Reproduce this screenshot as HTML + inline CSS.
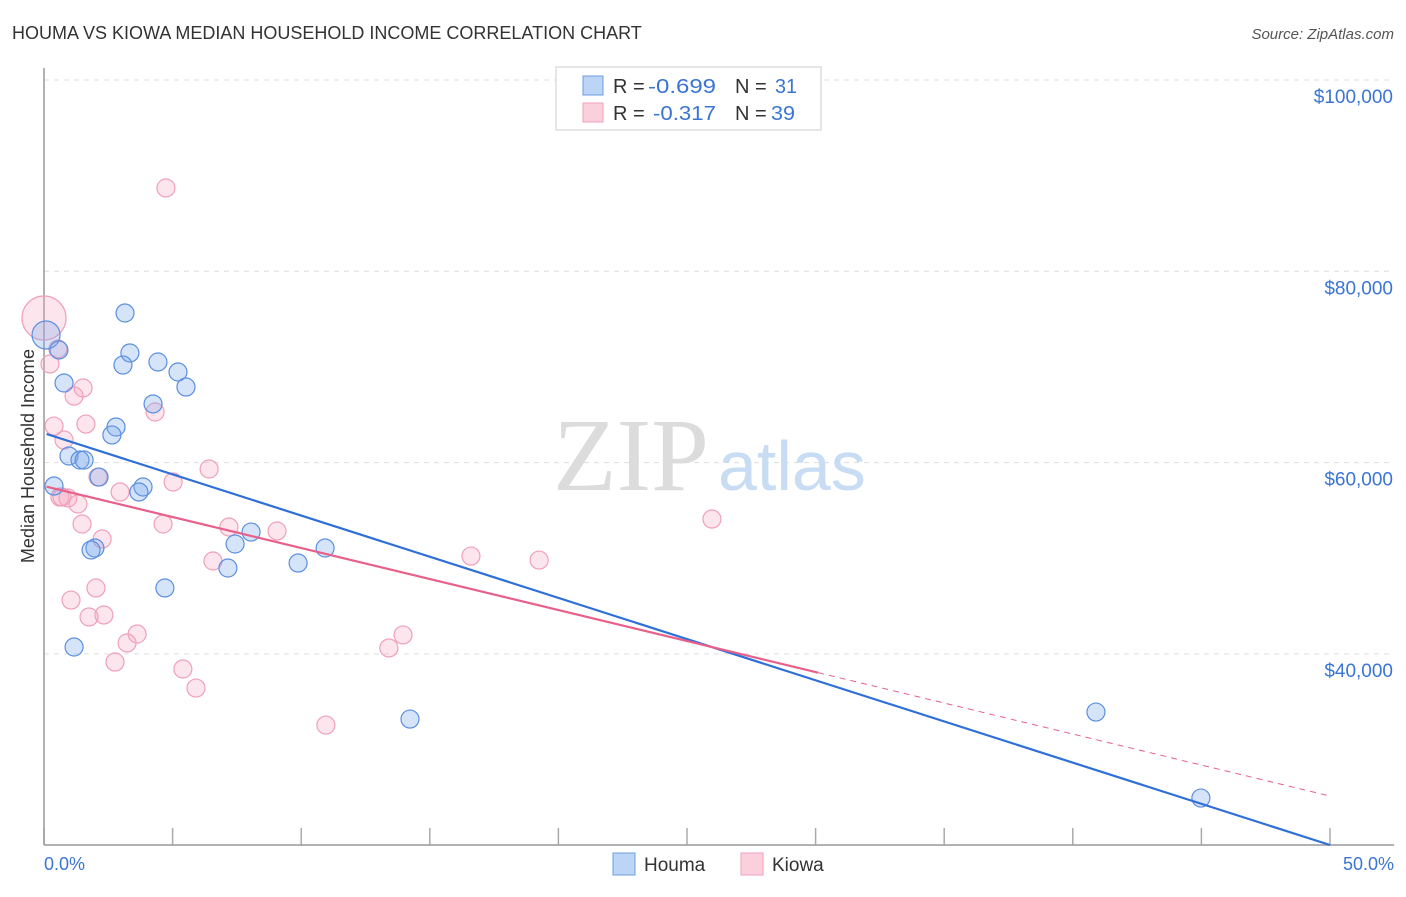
<!DOCTYPE html>
<html><head><meta charset="utf-8"><style>
body{margin:0;background:#fff;font-family:"Liberation Sans",sans-serif;}
</style></head><body>
<svg width="1406" height="892" viewBox="0 0 1406 892" font-family="Liberation Sans, sans-serif">
<text x="12" y="39" font-size="18" fill="#333">HOUMA VS KIOWA MEDIAN HOUSEHOLD INCOME CORRELATION CHART</text>
<text x="1394" y="39" font-size="15" fill="#555" font-style="italic" text-anchor="end">Source: ZipAtlas.com</text>
<g id="grid"></g>
<text x="553" y="490" font-size="104" fill="#dcdcdc" style="font-family:'Liberation Serif',serif">ZIP</text>
<text x="718" y="490" font-size="70" fill="#c8dcf3">atlas</text>
<line x1="44" y1="68" x2="44" y2="845" stroke="#999" stroke-width="1.5"/>
<line x1="44" y1="845" x2="1394" y2="845" stroke="#999" stroke-width="1.5"/>
<text x="34" y="456" font-size="18" fill="#333" text-anchor="middle" transform="rotate(-90 34 456)">Median Household Income</text>
<text x="44" y="870" font-size="18" fill="#3a75d6">0.0%</text>
<text x="1394" y="870" font-size="18" fill="#3a75d6" text-anchor="end">50.0%</text>
<g id="points"></g>
<g id="trends"></g>
<rect x="556" y="67" width="265" height="63" fill="#fff" stroke="#ccc"/>
<rect x="583" y="76" width="20" height="19" fill="#bcd4f5" stroke="#6a9be0"/>
<rect x="583" y="103" width="20" height="19" fill="#fbd0dd" stroke="#f0a0b8"/>
<g font-size="20">
<text x="613" y="93" fill="#333">R =</text><text x="648" y="93" fill="#3a75d6" textLength="68" lengthAdjust="spacingAndGlyphs">-0.699</text>
<text x="735" y="93" fill="#333">N =</text><text x="775" y="93" fill="#3a75d6" textLength="22" lengthAdjust="spacingAndGlyphs">31</text>
</g>
<g font-size="20">
<text x="613" y="120" fill="#333">R =</text><text x="653" y="120" fill="#3a75d6" textLength="63" lengthAdjust="spacingAndGlyphs">-0.317</text>
<text x="735" y="120" fill="#333">N =</text><text x="771" y="120" fill="#3a75d6" textLength="24" lengthAdjust="spacingAndGlyphs">39</text>
</g>
<rect x="613" y="853" width="22" height="22" fill="#bcd4f5" stroke="#6a9be0"/>
<text x="644" y="871" font-size="19" fill="#333">Houma</text>
<rect x="741" y="853" width="22" height="22" fill="#fbd0dd" stroke="#f0a0b8"/>
<text x="772" y="871" font-size="19" fill="#333">Kiowa</text>
</svg>
<script>
const yTicks=[40000,60000,80000,100000];
const yTickLabels=["$40,000","$60,000","$80,000","$100,000"];
const xTicks=[0,5,10,15,20,25,30,35,40,45,50];
const houmaX=[0.08,0.58,0.78,3.15,3.34,3.07,4.43,5.21,5.52,4.24,2.80,2.64,0.97,1.40,1.56,0.39,2.14,3.85,3.69,8.05,7.43,1.98,1.83,10.93,7.15,9.88,4.70,1.17,14.23,40.9,44.98];
const houmaY=[73340,71770,68320,75640,71460,70200,70520,69470,67900,66130,63720,62890,60690,60270,60270,57550,58490,57450,56930,52740,51490,51070,50860,51070,48980,49500,46890,40720,33190,33920,24930];
const kiowaX=[0,0.54,0.23,1.52,1.17,4.32,1.63,0.39,0.78,4.74,6.42,2.10,5.02,2.96,0.62,0.93,1.32,1.48,4.63,7.19,9.06,2.26,25.97,6.57,16.60,19.25,2.02,1.05,2.33,1.75,3.62,3.23,13.96,13.41,2.76,5.40,5.91,10.96,0.70];
const kiowaY=[75120,71880,70310,67800,66960,65290,64030,63820,62360,88710,59330,58490,57970,56930,56400,56300,55670,53580,53580,53270,52850,52010,54100,49710,50230,49810,46890,45630,44070,43860,42080,41140,41980,40620,39150,38420,36430,32560,56400];
const houmaTrend=[62990,20020];
const kiowaTrend=[57550,25140];
const kiowaSolidEnd=30.1;
const NS="http://www.w3.org/2000/svg";
const xs=v=>44+v/50*1286;
const ys=v=>80+(100000-v)/20000*191.3;
function mk(tag,attrs,parent){const e=document.createElementNS(NS,tag);for(const k in attrs)e.setAttribute(k,attrs[k]);parent.appendChild(e);return e;}
const grid=document.getElementById('grid');
yTicks.forEach((t,i)=>{
 const l=mk('line',{x1:44,x2:1394,y1:ys(t),y2:ys(t),stroke:'#ddd','stroke-dasharray':'5,5'},grid);
 
 
 const tx=mk('text',{x:1393,y:ys(t)+23,'font-size':19,fill:'#3a75d6','text-anchor':'end'},grid);
 tx.textContent=yTickLabels[i];
 
 
});
xTicks.forEach(t=>{
 const l=mk('line',{x1:xs(t),x2:xs(t),y1:828,y2:845,stroke:'#aaa','stroke-width':1.5},grid);
 
 
});
const pts=document.getElementById('points');
kiowaX.forEach((x,i)=>{
 const c=mk('circle',{cx:xs(x),cy:ys(kiowaY[i]),r:i===0?22:9,fill:'rgba(245,170,195,0.3)',stroke:'#f0a0b8','stroke-width':1.2},pts);
 
 
});
houmaX.forEach((x,i)=>{
 const c=mk('circle',{cx:xs(x),cy:ys(houmaY[i]),r:i===0?14:9,fill:'rgba(120,165,235,0.3)',stroke:'#5b8fe0','stroke-width':1.2},pts);
 
 
});
const tr=document.getElementById('trends');
const bl=mk('line',{x1:xs(0.1),y1:ys(houmaTrend[0]),x2:xs(50),y2:ys(houmaTrend[1]),stroke:'#2f6fd8','stroke-width':2.2},tr);


const kAt=x=>kiowaTrend[0]+(kiowaTrend[1]-kiowaTrend[0])*x/50;
const pl=mk('line',{x1:xs(0.1),y1:ys(kAt(0.1)),x2:xs(kiowaSolidEnd),y2:ys(kAt(kiowaSolidEnd)),stroke:'#e8608a','stroke-width':2.2},tr);


const pd=mk('line',{x1:xs(kiowaSolidEnd),y1:ys(kAt(kiowaSolidEnd)),x2:xs(50),y2:ys(kiowaTrend[1]),stroke:'#e8608a','stroke-width':1,'stroke-dasharray':'6,5'},tr);


</script>
</body></html>
